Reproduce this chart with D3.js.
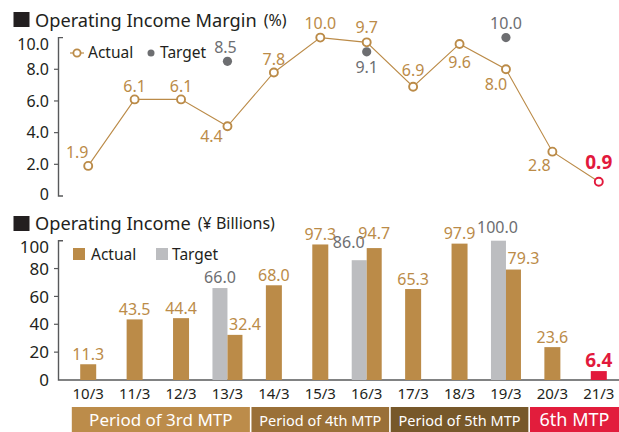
<!DOCTYPE html>
<html><head><meta charset="utf-8">
<script src="https://cdn.jsdelivr.net/npm/d3@7"></script>
<style>
body{margin:0;background:#fff}
svg{display:block}
text{font-family:"Noto Sans",sans-serif}
</style>
</head><body>
<svg id="chart" width="619" height="432"></svg>
<script>
// ---------- DATA ----------
const years = ["10/3","11/3","12/3","13/3","14/3","15/3","16/3","17/3","18/3","19/3","20/3","21/3"];
const marginActual = [1.9,6.1,6.1,4.4,7.8,10.0,9.7,6.9,9.6,8.0,2.8,0.9];
const marginTarget = [null,null,null,8.5,null,null,9.1,null,null,10.0,null,null];
const incomeActual = [11.3,43.5,44.4,32.4,68.0,97.3,94.7,65.3,97.9,79.3,23.6,6.4];
const incomeTarget = [null,null,null,66.0,null,null,86.0,null,null,100.0,null,null];
const marginTicks = [0,2,4,6,8,10];
const marginTickLabels = ["0","2.0","4.0","6.0","8.0","10.0"];
const incomeTicks = [0,20,40,60,80,100];
const incomeTickLabels = ["0","20","40","60","80","100"];
const periodLabels = ["Period of 3rd MTP","Period of 4th MTP","Period of 5th MTP","6th MTP"];
const periodStart = ["10/3","14/3","17/3","20/3"];
const periodEnd = ["13/3","16/3","19/3","21/3"];
const titleMargin = "Operating Income Margin";
const titleMarginUnit = "(%)";
const titleIncome = "Operating Income";
const titleIncomeUnit = "(¥ Billions)";
const legendLabels = ["Actual","Target"];

// ---------- LAYOUT (not data) ----------
const marginLabelOff = [[-11,-8],[0,-7],[0,-7],[-16,16],[0,-7],[0,-8.5],[0,-9],[0,-11],[0,24],[-10,21],[-13,19],[0,-13]];
const marginTargetOff = {3:[-2,-8],6:[0,21],9:[0,-8.3]};
const incomeActualOff = {3:[10,-5],6:[0,-9],9:[10,-5.5]};
const incomeTargetOff = {3:[0,-5],6:[-10.5,-12],9:[-1,-7.5]};
const marginTickShift = [-2,0,0,0,0,7];
const incomeTickShift = [0,0,0,0,0,6];

const GOLD = "#bb8b48", GRAY_DOT = "#6d6e71", GRAY_BAR = "#bcbdc0", RED = "#e2193c", DARK = "#231f20";
const bandColors = ["#bc8c4a","#9a7038","#77582a","#e21d3c"];

const svg = d3.select("#chart");
const W = 619;

const x = d3.scaleBand().domain(years).range([65, 622]);
const cx = d => x(d) + x.bandwidth()/2;

const yM = d3.scaleLinear().domain([0,10]).range([196, 37.6]);
const yI = d3.scaleLinear().domain([0,100]).range([380, 240.7]);

// ---------- Titles ----------
function title(yBase, t, unit, sqTop) {
  svg.append("rect").attr("x",13.5).attr("y",sqTop).attr("width",16).attr("height",15).attr("fill",DARK);
  const tt = svg.append("text").attr("x",35).attr("y",yBase).attr("fill",DARK).style("font-size","18.2px").text(t);
  const w = tt.node().getComputedTextLength();
  svg.append("text").attr("x",35+w+7).attr("y",yBase-1).attr("fill",DARK).style("font-size","16px").text(unit);
}
title(27, titleMargin, titleMarginUnit, 12);
title(230, titleIncome, titleIncomeUnit, 216);

// ---------- Top axis ----------
const axisColor = "#58595b";
const gA = svg.append("g");
gA.append("path").attr("d",`M63,${yM(10)}H58.5V${yM(0)}H63`).attr("fill","none").attr("stroke",axisColor).attr("stroke-width",1.4);
marginTicks.forEach((t,i)=>{
  if (t>0 && t<10) gA.append("line").attr("x1",54).attr("x2",58.5).attr("y1",yM(t)).attr("y2",yM(t)).attr("stroke",axisColor).attr("stroke-width",1.2);
  gA.append("text").attr("x",49).attr("y",yM(t)+marginTickShift[i]).attr("dy","0.36em").attr("text-anchor","end")
    .attr("fill",DARK).style("font-size","16px").text(marginTickLabels[i]);
});

// legend top
svg.append("line").attr("x1",70).attr("x2",84).attr("y1",53).attr("y2",53).attr("stroke",GOLD).attr("stroke-width",1.2);
svg.append("circle").attr("cx",77).attr("cy",53).attr("r",3.6).attr("fill","#fff").attr("stroke",GOLD).attr("stroke-width",1.8);
svg.append("text").attr("x",88).attr("y",58).attr("fill",DARK).style("font-size","15.5px").text(legendLabels[0]);
svg.append("circle").attr("cx",151).attr("cy",53).attr("r",3.5).attr("fill",GRAY_DOT);
svg.append("text").attr("x",160).attr("y",58).attr("fill",DARK).style("font-size","15.5px").text(legendLabels[1]);

// line
const line = d3.line().x((d,i)=>cx(years[i])).y(d=>yM(d));
svg.append("path").datum(marginActual).attr("d",line).attr("fill","none").attr("stroke",GOLD).attr("stroke-width",1.1);

// target dots
marginTarget.forEach((v,i)=>{
  if (v==null) return;
  svg.append("circle").attr("cx",cx(years[i])).attr("cy",yM(v)).attr("r",4.6).attr("fill",GRAY_DOT);
  const o = marginTargetOff[i];
  svg.append("text").attr("x",cx(years[i])+o[0]).attr("y",yM(v)+o[1]).attr("text-anchor","middle")
    .attr("fill",GRAY_DOT).style("font-size","16px").text(v.toFixed(1));
});
// actual markers + labels
marginActual.forEach((v,i)=>{
  const last = i===marginActual.length-1;
  svg.append("circle").attr("cx",cx(years[i])).attr("cy",yM(v)).attr("r",4).attr("fill","#fff")
    .attr("stroke", last?RED:GOLD).attr("stroke-width",1.9);
  const o = marginLabelOff[i];
  svg.append("text").attr("x",cx(years[i])+o[0]).attr("y",yM(v)+o[1]).attr("text-anchor","middle")
    .attr("fill", last?RED:GOLD).style("font-size", last?"19px":"16px").style("font-weight", last?"700":"400")
    .text(v.toFixed(1));
});

// ---------- Bottom chart ----------
const gB = svg.append("g");
gB.append("path").attr("d",`M63,${yI(100)}H58.5V${yI(0)}H${W}`).attr("fill","none").attr("stroke",axisColor).attr("stroke-width",1.4);
incomeTicks.forEach((t,i)=>{
  if (t>0 && t<100) gB.append("line").attr("x1",54).attr("x2",58.5).attr("y1",yI(t)).attr("y2",yI(t)).attr("stroke",axisColor).attr("stroke-width",1.2);
  gB.append("text").attr("x",49).attr("y",yI(t)+incomeTickShift[i]).attr("dy","0.36em").attr("text-anchor","end")
    .attr("fill",DARK).style("font-size","17px").text(incomeTickLabels[i]);
});

// legend bottom
svg.append("rect").attr("x",73).attr("y",248).attr("width",12).attr("height",12).attr("fill",GOLD);
svg.append("text").attr("x",91).attr("y",260).attr("fill",DARK).style("font-size","15.5px").text(legendLabels[0]);
svg.append("rect").attr("x",156).attr("y",248).attr("width",12).attr("height",12).attr("fill",GRAY_BAR);
svg.append("text").attr("x",172).attr("y",260).attr("fill",DARK).style("font-size","15.5px").text(legendLabels[1]);

const barW = 16, pairW = 15;
years.forEach((yr,i)=>{
  const c = cx(yr);
  const a = incomeActual[i], t = incomeTarget[i];
  const last = i===years.length-1;
  if (t!=null) {
    gB.append("rect").attr("x",c-pairW).attr("y",yI(t)).attr("width",pairW).attr("height",yI(0)-yI(t)).attr("fill",GRAY_BAR);
    gB.append("rect").attr("x",c).attr("y",yI(a)).attr("width",pairW).attr("height",yI(0)-yI(a)).attr("fill",GOLD);
    const ot = incomeTargetOff[i], oa = incomeActualOff[i];
    gB.append("text").attr("x",c-pairW/2+ot[0]).attr("y",yI(t)+ot[1]).attr("text-anchor","middle")
      .attr("fill",GRAY_DOT).style("font-size","16px").text(t.toFixed(1));
    gB.append("text").attr("x",c+pairW/2+oa[0]).attr("y",yI(a)+oa[1]).attr("text-anchor","middle")
      .attr("fill",GOLD).style("font-size","16px").text(a.toFixed(1));
  } else {
    gB.append("rect").attr("x",c-barW/2).attr("y",yI(a)).attr("width",barW).attr("height",yI(0)-yI(a)).attr("fill",last?RED:GOLD);
    gB.append("text").attr("x",c).attr("y",yI(a)-4.5).attr("text-anchor","middle")
      .attr("fill",last?RED:GOLD).style("font-size",last?"19px":"16px").style("font-weight",last?"700":"400").text(a.toFixed(1));
  }
  gB.append("text").attr("x",c).attr("y",399).attr("text-anchor","middle").attr("fill",DARK).style("font-size","15px").text(yr);
});

// period bands
periodLabels.forEach((p,i)=>{
  let x0 = x(periodStart[i]), x1 = x(periodEnd[i]) + x.bandwidth();
  if (i===0) x0 += 6;
  x0 += 0.8; x1 -= 0.8;
  x1 = Math.min(x1, W);
  svg.append("rect").attr("x",x0).attr("y",407).attr("width",x1-x0).attr("height",25).attr("fill",bandColors[i]);
  svg.append("text").attr("x",(x0+x1)/2).attr("y",426).attr("text-anchor","middle").attr("fill","#fff")
    .style("font-size", i===3?"18px":(i===0?"17px":"14.5px")).text(p);
});
</script>
</body></html>
